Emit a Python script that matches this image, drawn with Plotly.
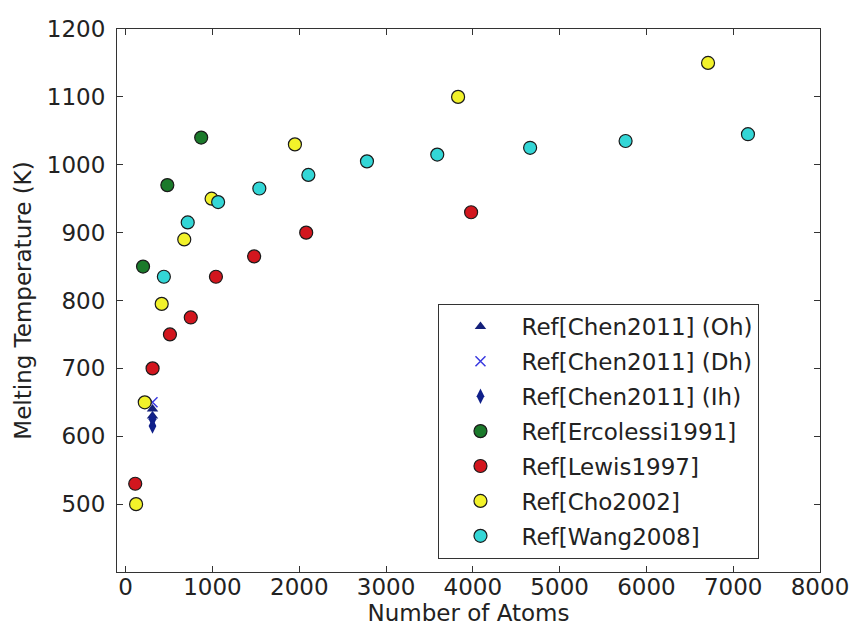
import plotly.graph_objects as go

# Data
chen_oh_x = [309, 309]
chen_oh_y = [640, 630]
chen_dh_x = [309]
chen_dh_y = [650]
chen_ih_x = [309, 309]
chen_ih_y = [625, 615]
erc_x = [200, 480, 870]
erc_y = [850, 970, 1040]
lewis_x = [110, 310, 510, 750, 1040, 1480, 2080, 3980]
lewis_y = [530, 700, 750, 775, 835, 865, 900, 930]
cho_x = [120, 220, 415, 675, 990, 1950, 3830, 6710]
cho_y = [500, 650, 795, 890, 950, 1030, 1100, 1150]
wang_x = [440, 715, 1065, 1540, 2105, 2780, 3590, 4660, 5760, 7170]
wang_y = [835, 915, 945, 965, 985, 1005, 1015, 1025, 1035, 1045]

x_ticks = [0, 1000, 2000, 3000, 4000, 5000, 6000, 7000, 8000]
y_ticks = [500, 600, 700, 800, 900, 1000, 1100, 1200]

font = "DejaVu Sans"
fs = 23
fig = go.Figure()

def circ(x, y, name, color, grp):
    fig.add_trace(go.Scatter(x=x, y=y, mode="markers", name=name, legendgroup=grp,
                             marker=dict(symbol="circle", size=13, color=color,
                                         line=dict(color="#1a1a1a", width=1.2))))

fig.add_trace(go.Scatter(x=chen_oh_x, y=chen_oh_y, mode="markers", name="Ref[Chen2011] (Oh)",
                         legendgroup="a",
                         marker=dict(symbol="triangle-up", size=10, color="#14207a",
                                     line=dict(width=0))))
fig.add_trace(go.Scatter(x=chen_dh_x, y=chen_dh_y, mode="markers", name="Ref[Chen2011] (Dh)",
                         legendgroup="b",
                         marker=dict(symbol="x-thin", size=10, color="#3a3ae0",
                                     line=dict(color="#3a3ae0", width=1.5))))
fig.add_trace(go.Scatter(x=chen_ih_x, y=chen_ih_y, mode="markers", name="Ref[Chen2011] (Ih)",
                         legendgroup="c",
                         marker=dict(symbol="diamond-tall", size=11, color="#10208a",
                                     line=dict(width=0))))
circ(erc_x, erc_y, "Ref[Ercolessi1991]", "#1b7a2b", "d")
circ(lewis_x, lewis_y, "Ref[Lewis1997]", "#d2161e", "e")
circ(cho_x, cho_y, "Ref[Cho2002]", "#f2f22a", "f")
circ(wang_x, wang_y, "Ref[Wang2008]", "#33d6d6", "g")

axis_common = dict(showline=True, linecolor="#333333", linewidth=1.2, mirror="allticks",
                   ticks="inside", ticklen=6, tickcolor="#333333", showgrid=False,
                   zeroline=False, automargin=False,
                   tickfont=dict(family=font, size=fs, color="#222222"))

fig.update_layout(
    width=853, height=628,
    margin=dict(l=117, r=33, t=29, b=56),
    plot_bgcolor="white", paper_bgcolor="white",
    font=dict(family=font, size=fs, color="#222222"),
    xaxis=dict(range=[-100, 8000], tickvals=x_ticks, ticklabelstandoff=-6,
               title=dict(text="Number of Atoms", font=dict(family=font, size=fs), standoff=3),
               **axis_common),
    yaxis=dict(range=[400, 1200], tickvals=y_ticks, ticklabelstandoff=6,
               title=dict(text="Melting Temperature (K)", font=dict(family=font, size=fs), standoff=8),
               **axis_common),
    legend=dict(x=0.457, y=0.494, xanchor="left", yanchor="top",
                bordercolor="#333333", borderwidth=1.2, bgcolor="white",
                font=dict(family=font, size=fs, color="#222222"),
                tracegroupgap=2, itemwidth=72),
    showlegend=True,
)

fig.write_html("out.html")
